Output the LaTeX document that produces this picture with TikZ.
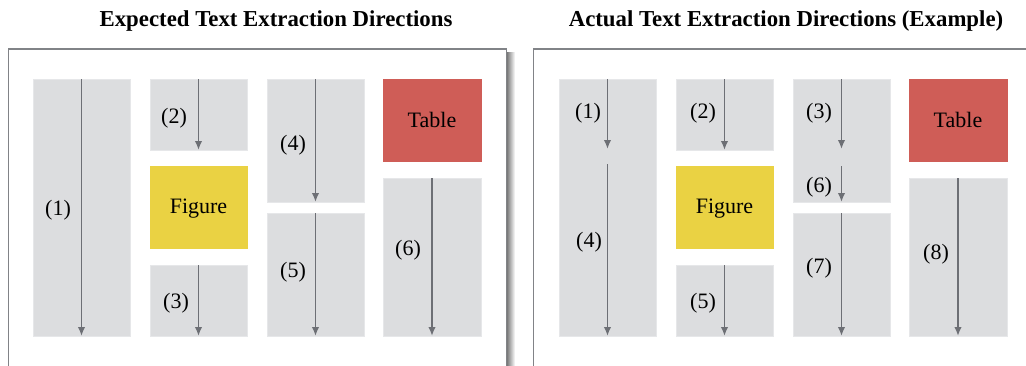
\documentclass[tikz,border=0pt]{standalone}
\usepackage{fontspec}
\setmainfont{Liberation Serif}
\usetikzlibrary{arrows.meta}
\definecolor{blkgray}{HTML}{DCDDDF}
\definecolor{tabred}{HTML}{CF5D57}
\definecolor{figyellow}{HTML}{EAD243}
\definecolor{arrgray}{HTML}{6D6F75}
\definecolor{framegray}{HTML}{818387}

\begin{document}
\begin{tikzpicture}[x=1pt,y=-1pt,
    blk/.style={anchor=north west,inner sep=0pt,outer sep=0pt,fill=blkgray,draw=blkgray!70!white,line width=0.6pt},
    lbl/.style={font=\fontsize{22}{24}\selectfont,inner sep=0pt},
    ttl/.style={font=\fontsize{22.8}{26}\selectfont\bfseries,inner sep=0pt},
    flow/.style={draw=arrgray,line width=1.8pt,-{Latex[length=9pt,width=7.5pt]}}]
    \clip (0,0) rectangle (1026,365);
    \fill[white] (0,0) rectangle (1026,365);
    % the two panels with their frames
    \shade[left color=black!55,right color=white] (506.5,52) rectangle (515,380);
    \draw[framegray,line width=1.5pt,fill=white] (8.5,49) rectangle (506.5,380);
    \draw[framegray,line width=1.5pt,fill=white] (533.5,49) rectangle (1040,380);
    \node[ttl] (tL) at (276,21) {Expected Text Extraction Directions};
    \node[ttl] (tR) at (786,21) {Actual Text Extraction Directions (Example)};
    % same page layout in both panels
    \foreach \P/\dx in {L/0,R/526}
    {\node[blk,minimum width=97pt,minimum height=257pt] (\P c1) at (33+\dx,79) {};
    \node[blk,minimum width=97pt,minimum height=71pt] (\P c2a) at (150+\dx,79) {};
    \node[blk,fill=figyellow,draw=figyellow,minimum width=97pt,minimum height=82pt] (\P fig) at (150+\dx,166) {};
    \node[lbl] at (\P fig.center) [yshift=-2pt] {Figure};
    \node[blk,minimum width=97pt,minimum height=71pt] (\P c2b) at (150+\dx,265) {};
    \node[blk,minimum width=97pt,minimum height=123pt] (\P c3a) at (267+\dx,79) {};
    \node[blk,minimum width=97pt,minimum height=123pt] (\P c3b) at (267+\dx,213) {};
    \node[blk,fill=tabred,draw=tabred,minimum width=98pt,minimum height=82pt,lbl] (\P tab) at (383+\dx,79) {Table};
    \node[blk,minimum width=98pt,minimum height=158pt] (\P c4b) at (383+\dx,178) {};}
    % expected order
    \foreach \B in {c1,c2a,c2b,c3a,c3b,c4b}
    {\draw[flow] (L\B.north) -- (L\B.south);}
    \node[lbl] (n1) at (58,210) {(1)};
    \node[lbl] (n2) at (174,118) {(2)};
    \node[lbl] (n3) at (176,303) {(3)};
    \node[lbl] (n4) at (293,145) {(4)};
    \node[lbl] (n5) at (293,272) {(5)};
    \node[lbl] (n6) at (408,250) {(6)};
    % actual order
    \coordinate (s1) at (Rc1.center |- 0,149);
    \coordinate (s4) at (Rc1.center |- 0,164);
    \coordinate (s3) at (Rc3a.center |- 0,149);
    \coordinate (s6) at (Rc3a.center |- 0,166);
    \draw[flow] (Rc1.north) -- (s1);
    \draw[flow] (s4) -- (Rc1.south);
    \draw[flow] (Rc3a.north) -- (s3);
    \draw[flow] (s6) -- (Rc3a.south);
    \foreach \B in {c2a,c2b,c3b,c4b}
    {\draw[flow] (R\B.north) -- (R\B.south);}
    \node[lbl] (m1) at (588,113) {(1)};
    \node[lbl] (m2) at (703,113) {(2)};
    \node[lbl] (m3) at (819,113) {(3)};
    \node[lbl] (m4) at (589,242) {(4)};
    \node[lbl] (m5) at (703,303) {(5)};
    \node[lbl] (m6) at (819,187) {(6)};
    \node[lbl] (m7) at (819,268) {(7)};
    \node[lbl] (m8) at (936,254) {(8)};
\end{tikzpicture}
\end{document}
